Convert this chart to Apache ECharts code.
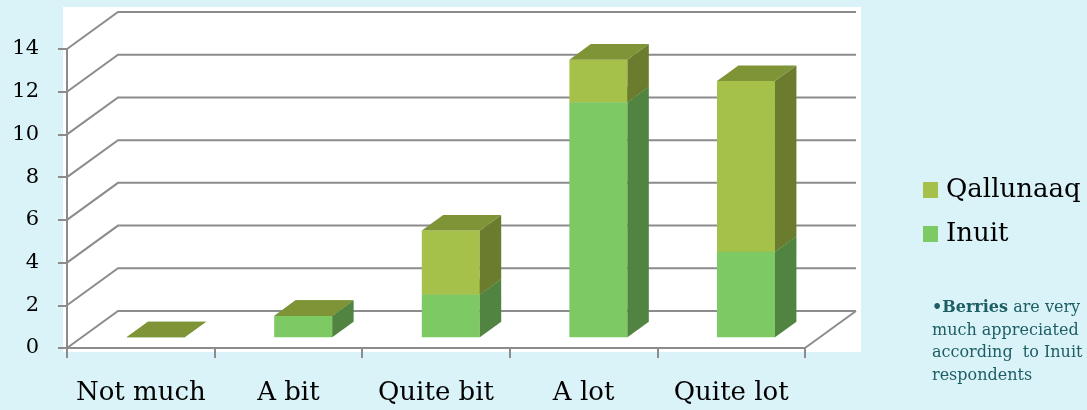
<!DOCTYPE html>
<html>
<head>
<meta charset="utf-8">
<script src="https://cdn.jsdelivr.net/npm/echarts@6/dist/echarts.min.js"></script>
<style>
  html, body { margin: 0; padding: 0; background: #daf3f8; }
  #chart { width: 1087px; height: 410px; }
</style>
</head>
<body>
<div id="chart"></div>
<script>
// Responses about berries, by group
const categories = ['Not much', 'A bit', 'Quite bit', 'A lot', 'Quite lot'];
const inuit = [0, 1, 2, 11, 4];
const qallunaaq = [0, 0, 3, 2, 8];
const yTicks = [0, 2, 4, 6, 8, 10, 12, 14];
const noteLines = ['are very', 'much appreciated', 'according  to Inuit', 'respondents'];

// 3D depth of the floor/back wall (pixels)
const DX = 51, DY = 37;
const FONT = 'DejaVu Serif';
const GRID_COL = '#8c8c8c';

const COLORS = {
  Inuit: { front: '#7dc963', side: '#508440', top: '#66a850' },
  Qallunaaq: { front: '#a6c149', side: '#6b7c2e', top: '#7f9436' }
};

function barRenderer(name) {
  const col = COLORS[name];
  return function (params, api) {
    const cat = api.value(0);
    const c0 = api.coord([cat, api.value(1)]);
    const c1 = api.coord([cat, api.value(2)]);
    const bw = api.size([1, 0])[0] * 0.393;
    const fx = c0[0] + 0.29 * DX - bw / 2;
    const fr = fx + bw;
    const yb = c0[1] - 0.29 * DY;
    const yt = c1[1] - 0.29 * DY;
    const bdx = 0.42 * DX, bdy = 0.42 * DY;
    return {
      type: 'group',
      children: [
        { type: 'rect', shape: { x: fx, y: yt, width: bw, height: yb - yt }, style: { fill: col.front } },
        { type: 'polygon', shape: { points: [[fr, yb], [fr + bdx, yb - bdy], [fr + bdx, yt - bdy], [fr, yt]] }, style: { fill: col.side } },
        { type: 'polygon', shape: { points: [[fx, yt], [fr, yt], [fr + bdx, yt - bdy], [fx + bdx, yt - bdy]] }, style: { fill: col.top } }
      ]
    };
  };
}

function gridRenderer(params, api) {
  const cs = params.coordSys;
  const v = api.value(1);
  const y = api.coord([0, v])[1];
  const left = cs.x, right = cs.x + cs.width;
  const children = [{
    type: 'polyline',
    shape: { points: [[left, y], [left + DX, y - DY], [right + DX, y - DY]] },
    style: { stroke: GRID_COL, lineWidth: 2, fill: null }
  }];
  if (v === 0) {
    children.push({
      type: 'line',
      shape: { x1: right, y1: y, x2: right + DX, y2: y - DY },
      style: { stroke: GRID_COL, lineWidth: 2 }
    });
  }
  return { type: 'group', children: children };
}

const chart = echarts.init(document.getElementById('chart'));
chart.setOption({
  backgroundColor: '#daf3f8',
  animation: false,
  grid: { left: 67, right: 282, top: 49, bottom: 62 },
  graphic: [
    { type: 'rect', z: -10, shape: { x: 63, y: 7, width: 798, height: 345 }, style: { fill: '#ffffff' } },
    {
      type: 'text', left: 932, top: 297,
      style: {
        text: '{b|•Berries} ' + noteLines[0] + '\n' + noteLines.slice(1).join('\n'),
        fill: '#1c5e64', font: '16px "' + FONT + '"', lineHeight: 22.5,
        rich: { b: { fontWeight: 'bold', fill: '#1c5e64', fontSize: 16, fontFamily: FONT, lineHeight: 22.5 } }
      }
    }
  ],
  legend: {
    data: ['Qallunaaq', 'Inuit'],
    orient: 'vertical', left: 918, top: 170,
    icon: 'rect', itemWidth: 15, itemHeight: 16, itemGap: 14,
    textStyle: { fontFamily: FONT, fontSize: 26, color: '#000', lineHeight: 30, padding: [0, 0, 0, 3] }
  },
  xAxis: {
    type: 'category', data: categories, boundaryGap: true,
    axisLine: { lineStyle: { color: GRID_COL, width: 2 } },
    axisTick: { show: true, interval: 0, length: 10, lineStyle: { color: GRID_COL, width: 2 } },
    axisLabel: { interval: 0, fontFamily: FONT, fontSize: 26, color: '#000', margin: 32 },
    splitLine: { show: false }
  },
  yAxis: {
    type: 'value', min: 0, max: 14, interval: 2,
    axisLine: { show: true, lineStyle: { color: GRID_COL, width: 2 } },
    axisTick: { show: true, length: 9, lineStyle: { color: GRID_COL, width: 2 } },
    axisLabel: { fontFamily: FONT, fontSize: 21, color: '#000', margin: 28 },
    splitLine: { show: false }
  },
  series: [
    {
      type: 'custom', name: 'gridlines', silent: true,
      renderItem: gridRenderer,
      data: yTicks.map(v => [0, v]),
      encode: { x: 0, y: 1 }
    },
    {
      type: 'custom', name: 'Inuit',
      itemStyle: { color: COLORS.Inuit.front },
      renderItem: barRenderer('Inuit'),
      data: inuit.map((v, i) => [i, 0, v]),
      encode: { x: 0, y: [1, 2] }
    },
    {
      type: 'custom', name: 'Qallunaaq',
      itemStyle: { color: COLORS.Qallunaaq.front },
      renderItem: barRenderer('Qallunaaq'),
      data: qallunaaq.map((v, i) => [i, inuit[i], inuit[i] + v]),
      encode: { x: 0, y: [1, 2] }
    }
  ]
});
</script>
</body>
</html>
